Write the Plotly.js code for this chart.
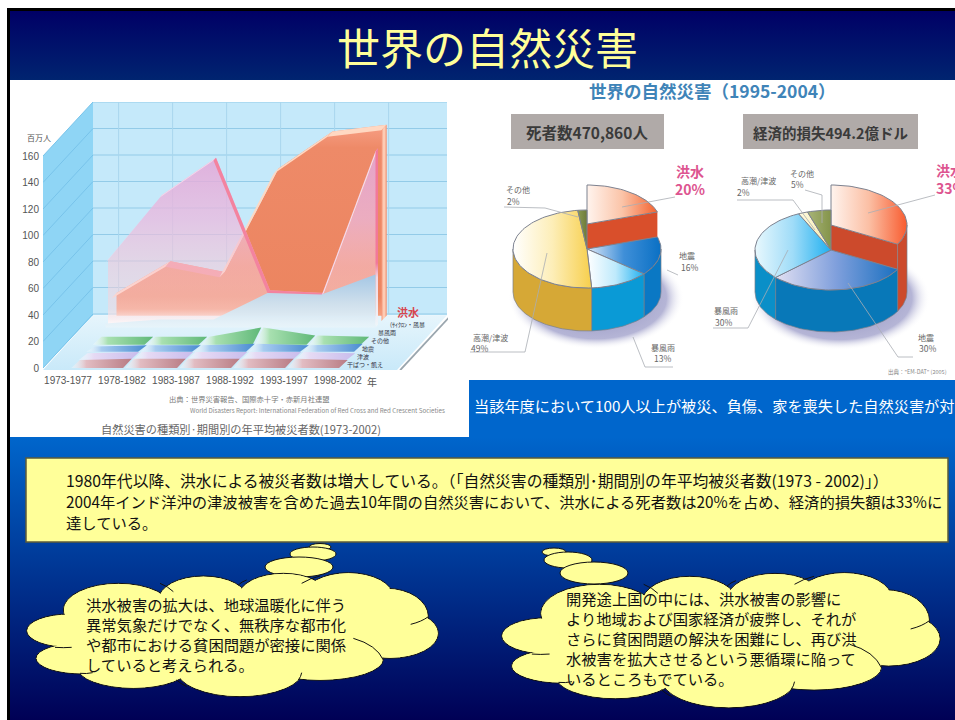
<!DOCTYPE html>
<html><head><meta charset="utf-8">
<script src="https://cdn.plot.ly/plotly-3.0.1.min.js"></script>
<style>html,body{margin:0;padding:0;background:#fff;overflow:hidden}#p{width:955px;height:720px}</style>
</head><body><div id="p"></div>
<script>
// ---------- data ----------
const periods=['1973-1977','1978-1982','1983-1987','1988-1992','1993-1997','1998-2002'];
const flood=[17,41,33,111,139,144];
const cyclone=[49,98,126,26,24,133];
const storm=[3,6,6,26,25,40];
const other=[6,6,6,13,7,6];
const quake=[4,5,5,6,5,6];
const tsunami=[5,6,6,6,6,5];
const drought=[6,7,7,7,7,6];
const valueTicks=[0,20,40,60,80,100,120,140,160];
const pieCategories=['洪水','地震','暴風雨','高潮/津波','その他'];
const deathsShare=[20,16,13,49,2];
const lossShare=[33,30,30,2,5];

// ---------- helpers ----------
const FONT='"Noto Sans CJK JP","Noto Sans",sans-serif';
const traces=[],shapes=[],annotations=[];
const base={hoverinfo:'skip',showlegend:false};
function poly(x,y,o={}){ // filled polygon, on the slide axes unless stated
  const t=Object.assign({},base,{type:'scatter',mode:'lines',x:x.concat([x[0]]),y:y.concat([y[0]]),fill:'toself',
    line:{width:o.lw||0,color:o.lc||'rgba(0,0,0,0)'},xaxis:o.xa||'x',yaxis:o.ya||'y'});
  if(o.grad){t.fillgradient={type:o.grad[0],colorscale:o.grad[1]};}
  else t.fillcolor=o.fill;
  traces.push(t);
}
function line(x,y,c,w,o={}){traces.push(Object.assign({},base,{type:'scatter',mode:'lines',x,y,line:{color:c,width:w},xaxis:o.xa||'x',yaxis:o.ya||'y'}));}
function rect(x0,y0,x1,y1,fill,lc,lw,layer){shapes.push({type:'rect',xref:'x',yref:'y',x0,y0,x1,y1,fillcolor:fill,line:{color:lc||fill,width:lw||0},layer:layer||'below'});}
function txt(text,x,y,size,color,anchor){annotations.push({text,x,y,xref:'x',yref:'y',showarrow:false,xanchor:anchor||'left',yanchor:'middle',align:anchor||'left',font:{family:FONT,size,color},borderpad:0});}

// ---------- slide background ----------
rect(7,8,955,11,'#000');
rect(7,8,10,720,'#000');
poly([10,955,955,10],[11,11,80,80],{grad:['vertical',[[0,'#002470'],[1,'#000066']]]});
rect(469,380,955,437,'#0066cc');
poly([10,955,955,10],[437,437,720,720],{grad:['vertical',[[0,'#000055'],[1,'#0066cc']]]});

// ---------- left 3-D area chart (x2/y2 are its real scales) ----------
const PX=54,PV=1.325,DX=50/PX,DY=54/PV;
const A={xa:'x2',ya:'y2'};
const X=(i,z)=>i+z*DX, Y=(v,z)=>v+z*DY;
const xL=-25/PX,xR=xL+354/PX,yB=-1.5,yTop=160;
// walls and floor
poly([xL,X(xL,1),X(xL,1),xL],[0,Y(0,1)-1,Y(yTop,1),yTop],Object.assign({fill:'#8fd5f5'},A));
poly([X(xL,1),X(xR,1),X(xR,1),X(xL,1)],[Y(0,1)-1,Y(0,1)-1,Y(yTop,1),Y(yTop,1)],Object.assign({fill:'#c5e9fa'},A));
poly([xR+0.05,X(xR,1)+0.05,X(xR,1)+0.05,xR+0.05],[-3,Y(0,1)-3,Y(0,1)-1,-1],Object.assign({fill:'#9aa6ae'},A));
poly([xL,xR,X(xR,1),X(xL,1)],[yB,yB,Y(0,1)-1,Y(0,1)-1],Object.assign({grad:['vertical',[[0,'#c9e9f9'],[1,'#e6f5fc']]]},A));
valueTicks.forEach(v=>{
  line([xL,X(xL,1)],[v,Y(v,1)],'#78c3ea',1,A);
  line([X(xL,1),X(xR,1)],[Y(v,1),Y(v,1)],'#93cbe8',1,A);
});
for(let i=0;i<6;i++)line([X(i,0.98)+0.03,X(i,0.98)+0.03],[Y(0,1),Y(yTop,1)],'#a9d6ee',1,A);

function area(vals,z,grad,ribbon,dz,rc,cap){
  const xs=vals.map((_,i)=>X(i,z)),ys=vals.map(v=>Y(v,z));
  const b=Y(0,z);
  poly([xs[0]].concat(xs,[xs[xs.length-1]]),[b].concat(ys,[b]),Object.assign({grad:['vertical',grad]},A));
  if(ribbon){
    const x2=vals.map((_,i)=>X(i,z-dz)),y2=vals.map(v=>Y(v,z-dz));
    for(let i=0;i<vals.length-1;i++){
      const sl=vals[i+1]<vals[i]?rc[1]:rc[0];
      poly([xs[i],xs[i+1],x2[i+1],x2[i]],[ys[i],ys[i+1],y2[i+1],y2[i]],Object.assign({fill:sl},A));
    }
    const n=vals.length-1;
    poly([xs[n],x2[n],x2[n],xs[n]],[b,Y(0,z-dz),y2[n],ys[n]],Object.assign({grad:cap},A));
  }
}
area(flood,0.97,[[0,'#f4a080'],[0.1,'#ec8560'],[0.88,'#ee8a68'],[1,'#f79f85']],true,0.10,['#ffd8c2','#f08a90'],['horizontal',[[0,'#f59a7c'],[0.5,'#ffd8c2'],[1,'#f59a7c']]]);
area(cyclone,0.80,[[0,'rgba(255,250,250,0.95)'],[0.09,'rgba(250,215,220,0.5)'],[0.33,'rgba(248,200,215,0.55)'],[0.6,'rgba(235,185,222,0.75)'],[1,'rgba(226,165,215,0.88)']],true,0.05,['#f6d8ea','#f3839f'],['vertical',[[0,'#eef6fa'],[0.28,'#f0d8e4'],[0.36,'#f2789a'],[1,'#f2789a']]]);
area(storm,0.75,[[0,'rgba(232,244,250,0.95)'],[0.45,'rgba(205,226,240,0.95)'],[1,'rgba(160,200,232,0.95)']]);
// low series drawn as one skewed ribbon per period
function band(vals,z,col){
  for(let i=0;i<vals.length-1;i++){
    const s=0.16,x0=X(i,z)+0.06,x1=X(i+1,z)+0.02;
    poly([x0,x1,x1+s,x0+s],[Y(0,z),Y(0,z),Y(vals[i+1],z),Y(vals[i],z)],Object.assign({grad:['horizontal',[[0,'rgba(255,255,255,0.3)'],[0.25,col[0]],[1,col[1]]]]},A));
  }
}
band(other,0.43,['#a8e0b0','#5fb878']);
band(quake,0.30,['#a8ccf0','#4a8cd0']);
band(tsunami,0.15,['#e6daf4','#c8bcec']);
band(drought,0.0,['#e2bcc2','#b87c84']);

// ---------- 3-D pies ----------
const rad=p=>p*2*Math.PI/100;
function arc(c,t0,t1,dy,r=1){const xs=[],ys=[];const n=Math.max(2,Math.ceil((t1-t0)/0.04));
  for(let k=0;k<=n;k++){const t=t0+(t1-t0)*k/n;xs.push(c.x+c.rx*r*Math.sin(t));ys.push(c.y+dy-c.ry*r*Math.cos(t));}return [xs,ys];}
function wall(c,t0,t1,up,col){
  const a=Math.max(t0,Math.PI/2),b=Math.min(t1,3*Math.PI/2);
  if(b<=a)return;
  const u=arc(c,a,b,up),d=arc(c,a,b,c.depth);
  poly(u[0].concat(d[0].slice().reverse()),u[1].concat(d[1].slice().reverse()),{fill:col,lw:0.7,lc:'#7a7f8a'});
}
function topFace(c,t0,t1,lift,grad){
  const g=arc(c,t0,t1,-lift);
  poly([c.x].concat(g[0]),[c.y-lift].concat(g[1]),{grad:['horizontal',grad],lw:1,lc:'#7d8290'});
}
function pie(c,shares,walls,grads){
  const shadow=[];for(let k=0;k<=60;k++)shadow.push(k/60*2*Math.PI);
  const LIFT=25;
  poly(shadow.map(t=>c.x+9+(c.rx+14)*Math.sin(t)),shadow.map(t=>c.y+c.depth+6-(c.ry+12)*Math.cos(t)),{grad:['radial',[[0,'rgba(95,95,160,0.75)'],[0.8,'rgba(120,120,180,0.55)'],[1,'rgba(255,255,255,0)']]]});
  let t=0;const sp=shares.map(s=>{const r=[t,t+rad(s)];t=r[1];return r;});
  // flood first: taller sector
  const [f0,f1]=sp[0];
  const e=arc(c,f1,f1,-LIFT),ed=arc(c,f1,f1,c.depth);
  poly([c.x,e[0][0],ed[0][0],c.x],[c.y-LIFT,e[1][0],ed[1][0],c.y+c.depth],{fill:walls[0]});
  wall(c,f0,f1,-LIFT,walls[0]);
  topFace(c,f0,f1,LIFT,grads[0]);
  for(let i=1;i<shares.length;i++){
    wall(c,sp[i][0],sp[i][1],0,walls[i]);
    topFace(c,sp[i][0],sp[i][1],0,grads[i]);
  }
}
const pieA={x:587,y:249,rx:74,ry:39,depth:43};
const pieB={x:831,y:250,rx:76,ry:40,depth:42};
pie(pieA,deathsShare,['#d94f2b','#0a78c4','#0a9ad6','#d6a836','#6e7a3a'],[
  [[0,'#fff4ee'],[0.5,'#fbc4a8'],[1,'#f4622e']],
  [[0,'#dfe9f8'],[0.5,'#3f8fd8'],[1,'#0a70c4']],
  [[0,'#ffffff'],[0.5,'#bfeafc'],[1,'#20b0f0']],
  [[0,'#ffffff'],[0.5,'#fdeeb8'],[1,'#f7cf4c']],
  [[0,'#8a9a50'],[1,'#6e7a3a']]]);
pie(pieB,lossShare,['#cc4a2c','#0878b8','#0a8fc8','#f0e8c0','#8a9a50'],[
  [[0,'#fff4ee'],[0.5,'#fbbfa4'],[1,'#f85c30']],
  [[0,'#e2e0f2'],[0.5,'#7f9fdc'],[1,'#1a70c0']],
  [[0,'#e8f8fd'],[0.5,'#9fdcf8'],[1,'#20b0f0']],
  [[0,'#fffbe0'],[1,'#f4e8a8']],
  [[0,'#a8b478'],[1,'#84944a']]]);
const LL='#a9adb4';
line([675,622],[197,207],LL,0.8);
line([504,545,578],[207,208,217],LL,0.8);
line([678,667],[275,270],LL,0.8);
line([673,645,633],[367,367,337],LL,0.8);
line([470,525,547],[352,352,253],LL,0.8);
line([935,868],[195,213],LL,0.8);
line([805,822,822],[190,195,223],LL,0.8);
line([737,793,815],[200,200,230],LL,0.8);
line([713,748,788],[328,328,250],LL,0.8);
line([913,898,848],[357,357,283],LL,0.8);

// ---------- yellow box ----------
rect(26,458,948,542,'#ffff99','#5c5c3a',1.5,'above');

// ---------- clouds ----------
const lobes=[[150,302,130,50],[295,240,165,80],[550,210,135,72],[790,200,135,70],[985,200,135,72],[1100,260,125,85],[1110,310,145,75],[900,388,190,63],[660,420,190,80],[340,410,170,65],[190,385,142,47],[600,300,420,120]];
const arcsIn=[[[1000,325],[1070,345],[1090,390]],[[1172,283],[1205,275],[1225,260]],[[845,160],[870,145],[900,138]],[[655,165],[665,155],[680,150]],[[420,160],[445,170],[460,185]],[[105,352],[130,354],[155,352]],[[180,430],[200,432],[218,428]],[[470,450],[480,460],[500,470]],[[845,428],[843,440],[835,450]]];
function ell(cx,cy,rx,ry,fill,lw){shapes.push({type:'circle',xref:'x',yref:'y',x0:cx-rx,x1:cx+rx,y0:cy-ry,y1:cy+ry,fillcolor:fill,line:{color:'#111',width:lw},layer:'above'});}
function cloud(map,bubbles){
  bubbles.forEach(b=>ell(b[0],b[1],b[2],b[3],'#ffff99',1));
  const L=lobes.map(l=>{const c=map(l[0],l[1]),e=map(l[0]+l[2],l[1]+l[3]);return [c[0],c[1],e[0]-c[0],e[1]-c[1]];});
  L.slice(0,-1).forEach(l=>ell(l[0],l[1],l[2],l[3],'#ffff99',1));
  L.forEach(l=>shapes.push({type:'circle',xref:'x',yref:'y',x0:l[0]-l[2]+0.7,x1:l[0]+l[2]-0.7,y0:l[1]-l[3]+0.7,y1:l[1]+l[3]-0.7,fillcolor:'#ffff99',line:{width:0},layer:'above'}));
  arcsIn.forEach(a=>{const p=a.map(q=>map(q[0],q[1]));shapes.push({type:'path',xref:'x',yref:'y',path:`M${p[0][0]},${p[0][1]} Q${p[1][0]},${p[1][1]} ${p[2][0]},${p[2][1]}`,line:{color:'#111',width:1},layer:'above'});});
}
cloud((x,y)=>[20+x/3,530+y/3],[[320,547,11,3.5],[313,554,23,7],[299,567,34,10]]);
cloud((x,y)=>[495+(20+(x-20)*1.065)/3,540+(98+(y-128)*1.09)/3],[[554,552,12,4],[568,560,24,8],[594,573,34,11]]);

// ---------- text ----------
txt('世界の自然災害',487,45.5,43,'#ffff99','center');
txt('百万人',39,137,8,'#555','center');
txt('年',372,381,10,'#555','center');
txt('<b>洪水</b>',408,312,11,'#d8454e','center');
txt('(ｻｲｸﾛﾝ・風暴',407,324,6,'#334','center');
txt('暴風雨',387,332,6,'#334','center');
txt('その他',380,340,6,'#334','center');
txt('地震',368,348,6,'#334','center');
txt('津波',363,356,6,'#334','center');
txt('干ばつ・飢え',365,364,6,'#334','center');
txt('出典：世界災害報告、国際赤十字・赤新月社連盟',249,399,7.3,'#777','center');
txt('World Disasters Report: International Federation of Red Cross and Red Crescent Societies',317,410,6.2,'#888','center');
txt('自然災害の種類別·期間別の年平均被災者数(1973-2002)',241,429,11.2,'#666','center');
txt('<b>世界の自然災害（1995-2004）</b>',712,90,17.5,'#3f84b8','center');
rect(511,114,664,149,'#b0aaa8');
rect(743,114,918,149,'#b0aaa8');
txt('<b>死者数470,860人</b>',587,132,15.5,'#3a3a3a','center');
txt('<b>経済的損失494.2億ドル</b>',830,132,14.5,'#3a3a3a','center');
txt('<b>'+pieCategories[0]+'<br>'+deathsShare[0]+'%</b>',690,180,14,'#dd5590','center');
txt(pieCategories[1],687,255,8,'#666','center');txt(deathsShare[1]+'%',689,267,8.5,'#666','center');
txt(pieCategories[2],663,347,8,'#666','center');txt(deathsShare[2]+'%',662,358,8.5,'#666','center');
txt(pieCategories[3],490,337,8,'#666','center');txt(deathsShare[3]+'%',479,348,8.5,'#666','center');
txt(pieCategories[4],518,189,8,'#666','center');txt(deathsShare[4]+'%',513,201,8.5,'#666','center');
txt('<b>'+pieCategories[0]+'<br>'+lossShare[0]+'%</b>',935,179,14,'#dd5590');
txt(pieCategories[1],926,337,8,'#666','center');txt(lossShare[1]+'%',927,348,8.5,'#666','center');
txt(pieCategories[2],726,310,8,'#666','center');txt(lossShare[2]+'%',723,322,8.5,'#666','center');
txt(pieCategories[3],758,180,8,'#666','center');txt(lossShare[3]+'%',743,192,8.5,'#666','center');
txt(pieCategories[4],802,173,8,'#666','center');txt(lossShare[4]+'%',797,184,8.5,'#666','center');
txt('出典："EM-DAT" (2005)',917,372,5.5,'#888','center');
txt('当該年度において100人以上が被災、負傷、家を喪失した自然災害が対',473,405,15.2,'#ffffff');
txt('1980年代以降、洪水による被災者数は増大している。（「自然災害の種類別･期間別の年平均被災者数(1973 - 2002)」）',65,480.7,15.8,'#111');
txt('2004年インド洋沖の津波被害を含めた過去10年間の自然災害において、洪水による死者数は20%を占め、経済的損失額は33%に',65,501.3,15.3,'#111');
txt('達している。',65,521.5,15.3,'#111');
txt(['洪水被害の拡大は、地球温暖化に伴う','異常気象だけでなく、無秩序な都市化','や都市における貧困問題が密接に関係','していると考えられる。'].join('<br>'),85,633.5,15.3,'#111');
txt(['開発途上国の中には、洪水被害の影響に','より地域および国家経済が疲弊し、それが','さらに貧困問題の解決を困難にし、再び洪','水被害を拡大させるという悪循環に陥って','いるところもでている。'].join('<br>'),565,638,15.3,'#111');

const layout={width:955,height:720,margin:{l:0,r:0,t:0,b:0},paper_bgcolor:'#fff',plot_bgcolor:'rgba(0,0,0,0)',showlegend:false,
  xaxis:{domain:[0,1],range:[0,955],visible:false,fixedrange:true},
  yaxis:{domain:[0,1],range:[720,0],visible:false,fixedrange:true},
  xaxis2:{domain:[43/955,448/955],range:[xL,xL+405/PX],anchor:'y2',tickmode:'array',tickvals:periods.map((_,i)=>i),ticktext:periods,showgrid:false,zeroline:false,showline:false,ticks:'',tickfont:{family:'Liberation Sans, Arial',size:10,color:'#555'},fixedrange:true,ticklabelstandoff:3},
  yaxis2:{domain:[1-370/720,1-102/720],range:[yB,(368-102)/PV],anchor:'x2',tickmode:'array',tickvals:valueTicks,showgrid:false,zeroline:false,showline:false,ticks:'',tickfont:{family:'Liberation Sans, Arial',size:10,color:'#555'},fixedrange:true,ticklabelstandoff:3},
  shapes,annotations};
Plotly.newPlot('p',traces,layout,{displayModeBar:false,staticPlot:true});
</script></body></html>
